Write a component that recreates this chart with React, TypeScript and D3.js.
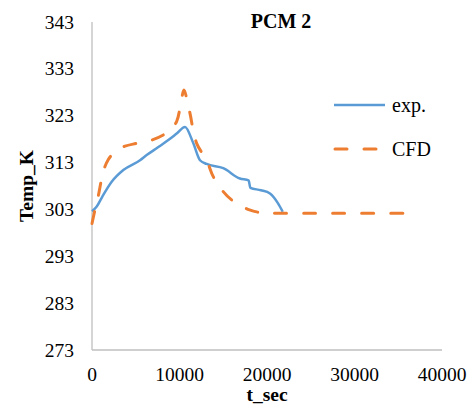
import React from "react";
import * as d3 from "d3";

const xTicks = [0, 10000, 20000, 30000, 40000];
const yTicks = [273, 283, 293, 303, 313, 323, 333, 343];

const expTime = [0, 540, 1200, 2250, 3580, 5490, 6250, 7500, 8720, 9680, 10630, 11580, 12340, 13100, 15000, 16900, 17900, 18100, 19300, 20340, 21260, 21800];
const expTemp = [302.6, 303.6, 305.8, 308.9, 311.4, 313.5, 314.6, 316.2, 317.8, 319.2, 320.6, 317.1, 313.5, 312.7, 311.8, 309.6, 309.2, 307.6, 307.1, 306.4, 304.3, 302.5];

const cfdTime = [0, 350, 700, 1100, 1470, 1850, 2250, 3000, 3770, 5100, 6820, 8150, 9000, 9680, 10100, 10510, 10900, 11200, 11960, 13100, 13860, 15000, 15970, 17000, 18000, 19000, 20000, 21000, 25000, 30000, 35800];
const cfdTemp = [300.0, 303.0, 305.7, 309.5, 312.1, 313.6, 314.6, 315.8, 316.5, 317.1, 317.8, 318.9, 320.0, 321.8, 325.0, 328.5, 326.0, 323.5, 317.1, 313.5, 310.0, 306.8, 305.0, 303.8, 302.9, 302.4, 302.2, 302.2, 302.2, 302.2, 302.2];

const seriesNames = ["exp.", "CFD"];

const W = 475;
const H = 408;
const left = 92;
const right = 442;
const top = 22;
const bottom = 350;
const BLUE = "#5B9BD5";
const ORANGE = "#ED7D31";
const serif = { fontFamily: "Liberation Serif" };

export default function App() {
  const x = d3.scaleLinear().domain([0, 40000]).range([left, right]);
  const y = d3.scaleLinear().domain([273, 343]).range([bottom, top]);
  const lineSmooth = d3
    .line<[number, number]>()
    .x((d) => x(d[0]))
    .y((d) => y(d[1]))
    .curve(d3.curveMonotoneX);
  const lineCfd = d3
    .line<[number, number]>()
    .x((d) => x(d[0]))
    .y((d) => y(d[1]))
    .curve(d3.curveCatmullRom.alpha(0.5));
  const expPts = expTime.map((t, i) => [t, expTemp[i]] as [number, number]);
  const cfdPts = cfdTime.map((t, i) => [t, cfdTemp[i]] as [number, number]);

  return (
    <svg width={W} height={H} style={{ display: "block", margin: "-8px 0 0 -8px" }}>
      <rect x={0} y={0} width={W} height={H} fill="#fff" />
      <line x1={left} x2={left} y1={top} y2={bottom} stroke="#BFBFBF" strokeWidth={1.3} />
      <line x1={left} x2={right} y1={bottom} y2={bottom} stroke="#BFBFBF" strokeWidth={1.3} />
      {yTicks.map((v) => (
        <text key={v} x={74} y={y(v) + 6.5} textAnchor="end" fontSize={19.5} fill="#000" style={serif}>
          {v}
        </text>
      ))}
      {xTicks.map((v) => (
        <text key={v} x={x(v)} y={380.5} textAnchor="middle" fontSize={19.5} fill="#000" style={serif}>
          {v}
        </text>
      ))}
      <text x={(left + right) / 2} y={401} textAnchor="middle" fontSize={19.5} fontWeight="bold" style={serif}>
        t_sec
      </text>
      <text
        transform={`translate(33,${(top + bottom) / 2}) rotate(-90)`}
        textAnchor="middle"
        fontSize={19.5}
        fontWeight="bold"
        style={serif}
      >
        Temp_K
      </text>
      <text x={281} y={27.5} textAnchor="middle" fontSize={20} fontWeight="bold" style={serif}>
        PCM 2
      </text>
      <path d={lineSmooth(expPts) || ""} fill="none" stroke={BLUE} strokeWidth={2.5} strokeLinejoin="round" />
      <path
        d={lineCfd(cfdPts) || ""}
        fill="none"
        stroke={ORANGE}
        strokeWidth={3}
        strokeDasharray="12 17"
        strokeLinecap="round"
        strokeLinejoin="round"
      />
      <line x1={334} x2={385} y1={105} y2={105} stroke={BLUE} strokeWidth={2.5} />
      <text x={392} y={111.5} fontSize={20} style={serif}>
        {seriesNames[0]}
      </text>
      <line
        x1={335}
        x2={385}
        y1={149}
        y2={149}
        stroke={ORANGE}
        strokeWidth={3}
        strokeDasharray="12 17"
        strokeLinecap="round"
      />
      <text x={392} y={155.5} fontSize={20} style={serif}>
        {seriesNames[1]}
      </text>
    </svg>
  );
}
